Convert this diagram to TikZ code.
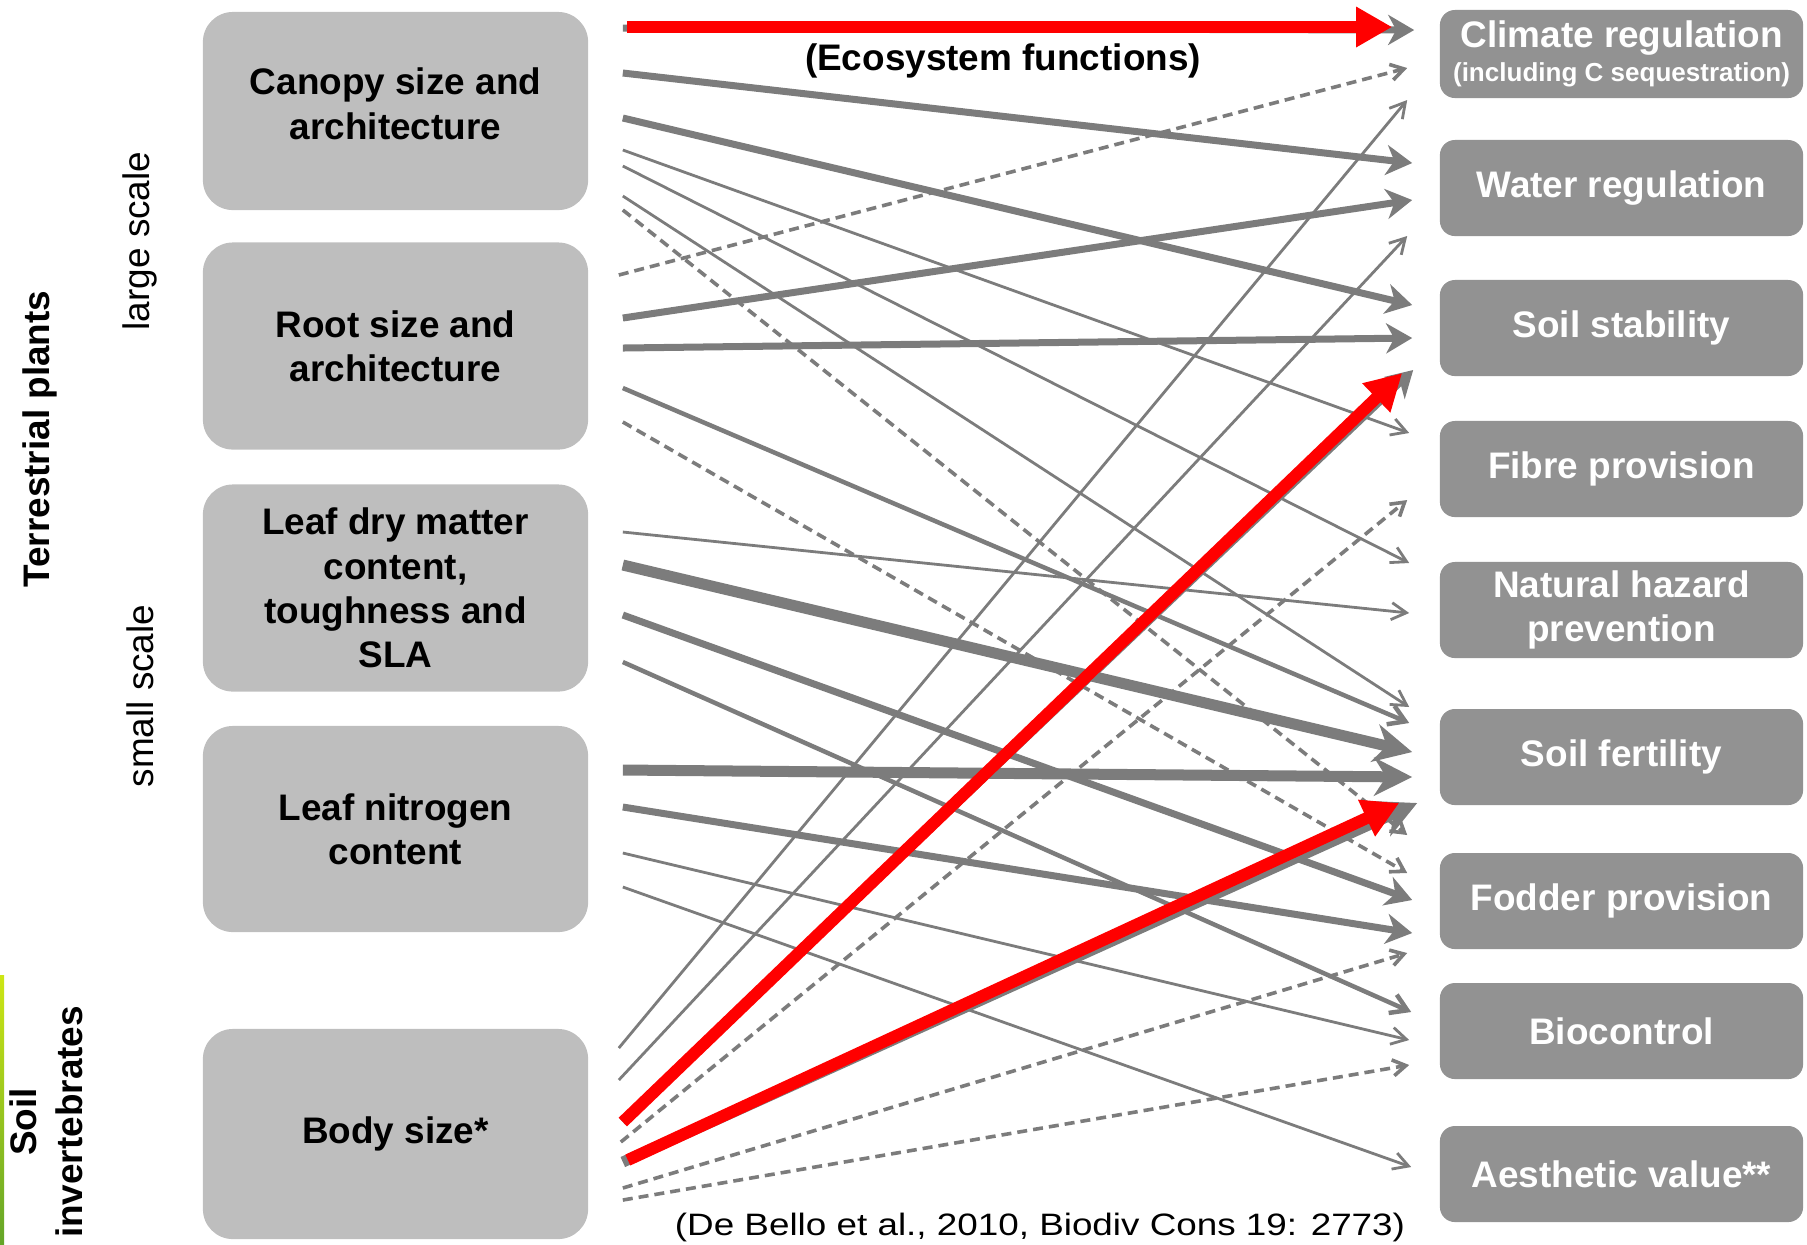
\documentclass[tikz,border=0pt]{standalone}
\usepackage{fontspec}
\setmainfont{Liberation Sans}
\usepackage{graphicx}
\usetikzlibrary{arrows.meta}
\definecolor{lightbox}{RGB}{190,190,190}
\definecolor{darkbox}{RGB}{146,146,146}
\definecolor{linegrey}{RGB}{124,124,124}
\definecolor{soilgreen}{RGB}{100,165,40}
\definecolor{soilyellow}{RGB}{205,230,20}

\begin{document}
\begin{tikzpicture}[x=0.01cm, y=-0.01cm,
    trait/.style={fill=lightbox, rounded corners=0.3cm, minimum width=3.85cm, align=center, inner sep=0pt,
        font=\fontsize{10.5}{12.6}\selectfont\bfseries},
    service/.style={fill=darkbox, rounded corners=0.15cm, minimum width=3.63cm, minimum height=0.96cm, align=center,
        inner sep=0pt, text=white, font=\fontsize{10.5}{12.6}\selectfont\bfseries},
    side/.style={rotate=90, font=\fontsize{10.5}{12.6}\selectfont},
    strong/.style={draw=linegrey, line width=0.07cm, -{Stealth[length=0.26cm,width=0.3cm,inset=0.08cm]}},
    heavy/.style={draw=linegrey, line width=0.11cm, -{Stealth[length=0.38cm,width=0.38cm,inset=0.12cm]}},
    midlink/.style={draw=linegrey, line width=0.045cm, -{Straight Barb[length=0.16cm,width=0.2cm]}},
    weak/.style={draw=linegrey, line width=0.028cm, -{Straight Barb[length=0.15cm,width=0.17cm]}},
    unsure/.style={draw=linegrey, line width=0.036cm, dash pattern=on 0.1cm off 0.06cm,
        -{Straight Barb[length=0.13cm,width=0.16cm]}},
    keylink/.style={draw=red, line width=0.12cm, -{Triangle[length=0.36cm,width=0.38cm]}}]
\useasboundingbox (0,0) rectangle (1807,1244);

\shade[top color=soilyellow, bottom color=soilgreen] (0,975) rectangle (4,1244);

\node[side, font=\fontsize{10.5}{12.6}\selectfont\bfseries] (terr) at (40,439) {Terrestrial plants};
\node[side] (large) at (140,241) {large scale};
\node[side] (small) at (140,696) {small scale};
\node[side, align=center, font=\fontsize{10.5}{13}\selectfont\bfseries] (soil) at (46,1122) {Soil\\invertebrates};

\node[trait, minimum height=1.98cm, text depth=0.15cm] (canopy) at (395.5,111) {Canopy size and\\architecture};
\node[trait, minimum height=2.07cm] (root) at (395.5,346) {Root size and\\architecture};
\node[trait, minimum height=2.07cm] (leafdry) at (395.5,588) {Leaf dry matter\\content,\\toughness and\\SLA};
\node[trait, minimum height=2.06cm] (leafn) at (395.5,829) {Leaf nitrogen\\content};
\node[trait, minimum height=2.1cm] (body) at (395.5,1134) {Body size*};

\node[service, minimum height=0.88cm] (climate) at (1621.5,54) {Climate regulation\\[-3pt]{\fontsize{7.4}{9}\selectfont(including C sequestration)}};
\node[service] (water) at (1621.5,188) {Water regulation};
\node[service] (soilstab) at (1621.5,328) {Soil stability};
\node[service] (fibre) at (1621.5,469) {Fibre provision};
\node[service] (hazard) at (1621.5,610) {Natural hazard\\prevention};
\node[service] (fertility) at (1621.5,757) {Soil fertility};
\node[service] (fodder) at (1621.5,901) {Fodder provision};
\node[service] (bio) at (1621.5,1031) {Biocontrol};
\node[service] (aesthetic) at (1621.5,1174) {Aesthetic value**};

\node[font=\fontsize{10.5}{12.6}\selectfont\bfseries] (esf) at (1003,61) {(Ecosystem functions)};
\node[anchor=base, font=\fontsize{8.8}{10}\selectfont] (source) at (1040,1235)
    {\scalebox{1.19}[1]{(De Bello et al., 2010, Biodiv Cons 19: 2773)}};

% canopy
\draw[strong] ([shift={(34,-83)}]canopy.east) -- ([shift={(-25,-24)}]climate.west);
\draw[strong] ([shift={(34,-38)}]canopy.east) -- ([shift={(-27,-25)}]water.west);
\draw[strong] ([shift={(34,7)}]canopy.east) -- ([shift={(-27,-23)}]soilstab.west);
\draw[weak] ([shift={(34,39)}]canopy.east) -- ([shift={(-30,-36)}]fibre.west);
\draw[weak] ([shift={(34,55)}]canopy.east) -- ([shift={(-30,-47)}]hazard.west);
\draw[weak] ([shift={(34,85)}]canopy.east) -- ([shift={(-30,-50)}]fertility.west);
\draw[unsure] ([shift={(34,99)}]canopy.east) -- ([shift={(-32,-66)}]fodder.west);
% root
\draw[unsure] ([shift={(30,-71)}]root.east) -- ([shift={(-32,14)}]climate.west);
\draw[strong] ([shift={(34,-28)}]root.east) -- ([shift={(-27,12)}]water.west);
\draw[strong] ([shift={(34,2)}]root.east) -- ([shift={(-27,10)}]soilstab.west);
\draw[midlink] ([shift={(34,42)}]root.east) -- ([shift={(-30,-34)}]fertility.west);
\draw[unsure] ([shift={(34,76)}]root.east) -- ([shift={(-32,-28)}]fodder.west);
% leaf dry matter
\draw[weak] ([shift={(34,-56)}]leafdry.east) -- ([shift={(-30,3)}]hazard.west);
\draw[heavy] ([shift={(34,-23)}]leafdry.east) -- ([shift={(-27,-5)}]fertility.west);
\draw[strong] ([shift={(34,27)}]leafdry.east) -- ([shift={(-27,-1)}]fodder.west);
\draw[midlink] ([shift={(34,74)}]leafdry.east) -- ([shift={(-28,-19)}]bio.west);
% leaf nitrogen
\draw[heavy] ([shift={(34,-59)}]leafn.east) -- ([shift={(-27,20)}]fertility.west);
\draw[strong] ([shift={(34,-22)}]leafn.east) -- ([shift={(-27,32)}]fodder.west);
\draw[weak] ([shift={(34,24)}]leafn.east) -- ([shift={(-30,9)}]bio.west);
\draw[weak] ([shift={(34,58)}]leafn.east) -- ([shift={(-28,-7)}]aesthetic.west);
% body size
\draw[weak] ([shift={(30,-86)}]body.east) -- ([shift={(-32,46)}]climate.west);
\draw[weak] ([shift={(30,-54)}]body.east) -- ([shift={(-32,48)}]water.west);
\draw[strong] ([shift={(34,-12)}]body.east) -- ([shift={(-26,42)}]soilstab.west);
\draw[unsure] ([shift={(32,8)}]body.east) -- ([shift={(-32,31)}]fibre.west);
\draw[heavy] ([shift={(34,28)}]body.east) -- ([shift={(-22,46)}]fertility.west);
\draw[unsure] ([shift={(34,54)}]body.east) -- ([shift={(-32,52)}]fodder.west);
\draw[unsure] ([shift={(34,66)}]body.east) -- ([shift={(-30,34)}]bio.west);
% highlighted
\draw[keylink] ([shift={(38,-84)}]canopy.east) -- ([shift={(-47,-27)}]climate.west);
\draw[keylink] ([shift={(34,-12)}]body.east) -- ([shift={(-37,45)}]soilstab.west);
\draw[keylink] ([shift={(39,26)}]body.east) -- ([shift={(-40,46)}]fertility.west);
\end{tikzpicture}
\end{document}
